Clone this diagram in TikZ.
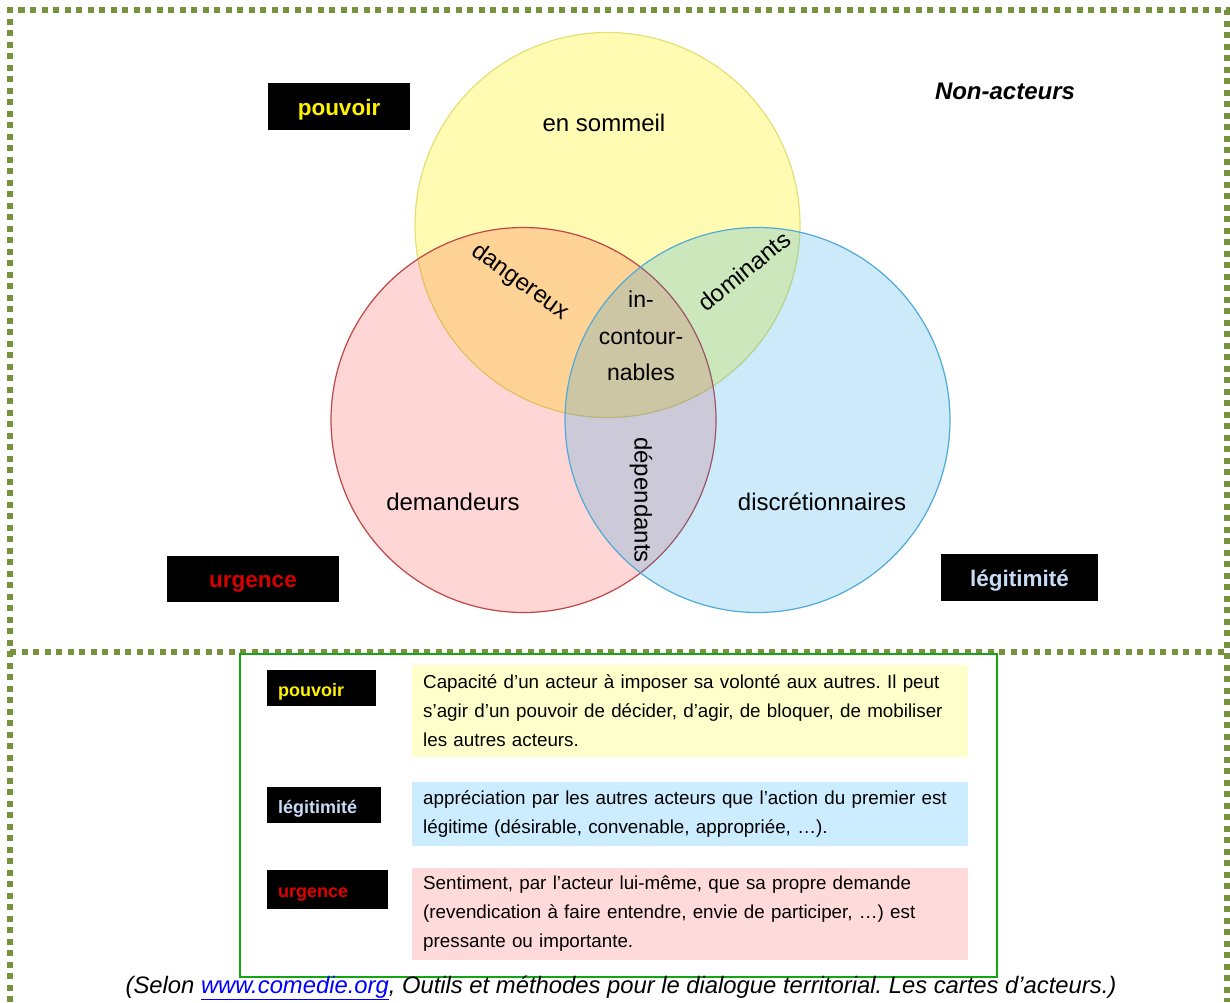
\documentclass[tikz,border=0pt]{standalone}
\usepackage{fontspec}
\setmainfont{Liberation Sans}
\usepackage{xcolor}
\usepackage{tikz}
\frenchspacing

\definecolor{olivedots}{RGB}{118,146,60}
\definecolor{legendgreen}{RGB}{20,165,20}
\definecolor{keyblue}{RGB}{200,220,245}
\definecolor{defyellow}{RGB}{255,255,204}
\definecolor{defblue}{RGB}{204,236,255}
\definecolor{defpink}{RGB}{255,218,218}

\tikzset{
  border/.style={line width=6pt, color=olivedots, dash pattern=on 6pt off 5.5pt},
  venn/.style={circle, minimum size=385pt, inner sep=0pt, line width=1.2pt},
  zone/.style={inner sep=0pt, font=\fontsize{24}{28}\selectfont},
  tag/.style={fill=black, font=\bfseries\fontsize{22.5}{26}\selectfont, inner sep=0pt,
    text height=17pt, text depth=0pt},
  legkey/.style={fill=black, anchor=west, inner xsep=11pt, inner ysep=0pt, align=left,
    text height=16pt, text depth=0pt, font=\bfseries\fontsize{18}{20}\selectfont},
  legdef/.style={anchor=west, text width=534pt, inner xsep=11pt, inner ysep=0pt, align=left,
    font=\fontsize{18.8}{29}\selectfont}
}

\begin{document}
\begin{tikzpicture}[x=1pt, y=-1pt]
\useasboundingbox (0,0) rectangle (1230,1002);

% dotted frame
\draw[border] (10,1002) -- (10,10) -- (1227,10) -- (1227,1002);
\draw[border] (10,651.5) -- (1227,651.5);

% the three circles
\node[venn, draw={rgb,255:red,225;green,225;blue,120}, fill=yellow, fill opacity=0.3] (pouvoir) at (607.5,225) {};
\node[venn, draw={rgb,255:red,190;green,70;blue,70}, fill=red, fill opacity=0.16] (urgence) at (523.5,420) {};
\node[venn, draw={rgb,255:red,80;green,170;blue,215}, fill={rgb,255:red,0;green,150;blue,230}, fill opacity=0.2] (legitimite) at (757.5,420) {};

% zone labels
\node[zone] (sommeil) at (604,123) {en sommeil};
\node[zone, rotate=-35.5] (dangereux) at (520,282) {dangereux};
\node[zone, rotate=39] (dominants) at (744,271) {dominants};
\node[zone, align=center, font=\fontsize{23}{36.5}\selectfont] (incontournables) at (641,336) {in-\\contour-\\nables};
\node[zone, rotate=-90] (dependants) at (641,500) {dépendants};
\node[zone] (demandeurs) at (453,502) {demandeurs};
\node[zone] (discretionnaires) at (822,502) {discrétionnaires};
\node[font=\bfseries\itshape\fontsize{24}{28}\selectfont] (nonacteurs) at (1005,91) {Non-acteurs};

% black tags
\node[tag, minimum width=142pt, minimum height=47pt, text=yellow] (tagpouvoir) at (339,106.5) {pouvoir};
\node[tag, minimum width=172pt, minimum height=46pt, text={rgb,255:red,215;green,0;blue,0}] (tagurgence) at (253,579) {urgence};
\node[tag, minimum width=157pt, minimum height=47pt, text=keyblue] (taglegitimite) at (1019.5,577.5) {légitimité};

% legend
\draw[legendgreen, line width=1.3pt] (240,654) rectangle (997,977);

\node[legkey, text width=87pt, minimum height=36pt, text=yellow] (keypouvoir) at (267,688) {pouvoir};
\node[legkey, text width=92pt, minimum height=36pt, text=keyblue] (keylegitimite) at (267,805) {légitimité};
\node[legkey, text width=99pt, minimum height=39pt, text={rgb,255:red,225;green,0;blue,0}] (keyurgence) at (267,889.5) {urgence};

\node[legdef, fill=defyellow, minimum height=92pt] (defpouvoir) at (412,711) {Capacité d’un acteur à imposer sa volonté aux autres. Il peut\\ s’agir d’un pouvoir de décider, d’agir, de bloquer, de mobiliser\\ les autres acteurs.};
\node[legdef, fill=defblue, minimum height=64pt] (deflegitimite) at (412,814) {appréciation par les autres acteurs que l’action du premier est\\ légitime (désirable, convenable, appropriée, …).};
\node[legdef, fill=defpink, minimum height=92pt] (defurgence) at (412,914) {Sentiment, par l’acteur lui-même, que sa propre demande\\ (revendication à faire entendre, envie de participer, …) est\\ pressante ou importante.};

% source
\node[font=\itshape\fontsize{23.8}{28}\selectfont] (source) at (621,988) {(Selon \textcolor{blue}{\underline{www.comedie.org}}, Outils et méthodes pour le dialogue territorial. Les cartes d’acteurs.)};
\end{tikzpicture}
\end{document}
